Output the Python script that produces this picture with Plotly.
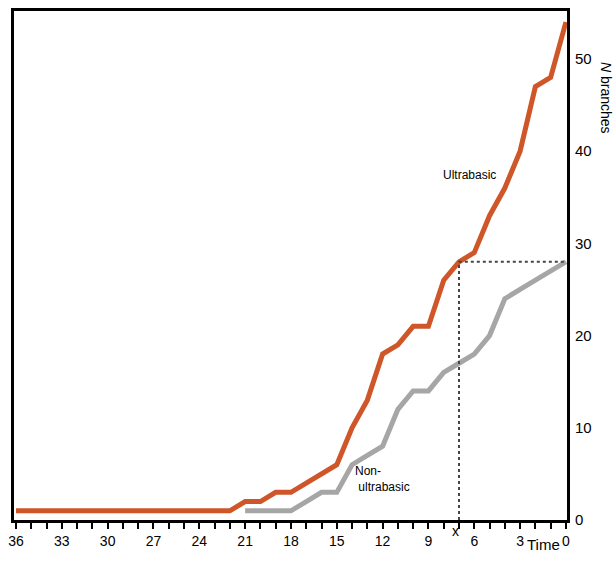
import plotly.graph_objects as go

# Time (reversed axis) and branch counts
times = list(range(36, -1, -1))
ultrabasic = [1]*15 + [2, 2, 3, 3, 4, 5, 6, 10, 13, 18, 19, 21, 21, 26, 28, 29, 33, 36, 40, 47, 48, 54]
nonultra_times = list(range(21, -1, -1))
nonultrabasic = [1, 1, 1, 1, 2, 3, 3, 6, 7, 8, 12, 14, 14, 16, 17, 18, 20, 24, 25, 26, 27, 28]

x_tickvals = list(range(36, -1, -3))
x_ticktext = [str(v) for v in x_tickvals]
y_tickvals = [0, 10, 20, 30, 40, 50]

marker_time = 7
marker_value = 28

FONT = "Liberation Sans, Arial, sans-serif"
ORANGE = "rgb(206,86,40)"
GRAY = "rgb(166,166,166)"

fig = go.Figure()
fig.add_trace(go.Scatter(x=nonultra_times, y=nonultrabasic, mode="lines",
                         line=dict(color=GRAY, width=5), showlegend=False))
fig.add_trace(go.Scatter(x=times, y=ultrabasic, mode="lines",
                         line=dict(color=ORANGE, width=5), showlegend=False))
# dotted guide lines
fig.add_trace(go.Scatter(x=[marker_time, marker_time, 0], y=[0, marker_value, marker_value],
                         mode="lines", line=dict(color="rgb(70,70,70)", width=2, dash="dot"),
                         showlegend=False))

fig.update_layout(
    width=614, height=562,
    margin=dict(l=12, r=47, t=8, b=42),
    plot_bgcolor="white", paper_bgcolor="white",
    font=dict(family=FONT, size=14, color="black"),
)
fig.update_xaxes(
    range=[36.13, -0.07], tickvals=x_tickvals, ticktext=x_ticktext,
    ticks="outside", ticklen=6, tickwidth=2, tickcolor="black",
    minor=dict(dtick=1, ticks="outside", ticklen=6, tickwidth=2, tickcolor="black"),
    showgrid=False, zeroline=False,
    showline=True, linecolor="black", linewidth=3, mirror=True,
    tickfont=dict(size=14), ticklabeloverflow="allow",
)
fig.update_yaxes(
    range=[0, 55.2], tickvals=y_tickvals, side="right",
    ticks="", showgrid=False, zeroline=False,
    showline=True, linecolor="black", linewidth=3, mirror=True,
    tickfont=dict(size=15), ticklabelstandoff=2,
)

fig.add_annotation(x=marker_time + 0.2, y=0, xref="x", yref="paper", text="x",
                   showarrow=False, yshift=-21, font=dict(size=14))
fig.add_annotation(x=1.5, y=0, xref="x", yref="paper", text="Time", showarrow=False,
                   yshift=-35, font=dict(size=15))
fig.add_annotation(xref="paper", yref="paper", x=1.0, y=1.0, text="<i>N</i> branches",
                   textangle=90, showarrow=False, font=dict(size=14),
                   xanchor="center", yanchor="middle", xshift=39, yshift=-87)
fig.add_annotation(x=6.3, y=37.4, xref="x", yref="y", text="Ultrabasic",
                   showarrow=False, font=dict(size=12))
fig.add_annotation(x=13.95, y=4.4, xref="x", yref="y", text="Non-<br> ultrabasic",
                   showarrow=False, align="left", xanchor="left", font=dict(size=12))

fig.write_html(
    "out.html",
    config={"displayModeBar": False},
    post_script="document.body.style.margin='0';document.body.style.overflow='hidden';",
)
